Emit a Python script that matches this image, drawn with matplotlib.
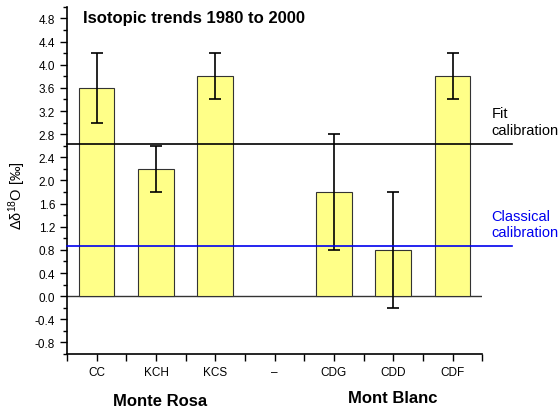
import matplotlib
matplotlib.use('Agg')
import matplotlib.pyplot as plt
import numpy as np
from matplotlib.ticker import MultipleLocator, FixedLocator, FormatStrFormatter

plt.rcParams['font.family'] = ['Liberation Sans', 'DejaVu Sans']
plt.rcParams['mathtext.default'] = 'regular'

# isotopic trends per core, 1980-2000
cores = ['CC', 'KCH', 'KCS', '\u2013', 'CDG', 'CDD', 'CDF']
trend = [3.6, 2.2, 3.8, np.nan, 1.8, 0.8, 3.8]
err = [0.6, 0.4, 0.4, np.nan, 1.0, 1.0, 0.4]
fit_cal = 2.63
classic_cal = 0.86

fig = plt.figure(figsize=(5.6, 4.14), dpi=100)
ax = fig.add_axes([0.1196, 0.1425, 0.7414, 0.8385])

x = np.arange(len(cores))
ax.bar(x, trend, 0.6, color='#ffff88', edgecolor='#333333', linewidth=0.8, zorder=2)
ax.errorbar(x, trend, yerr=err, fmt='none', ecolor='black', elinewidth=1.2,
            capsize=4, capthick=1.2, zorder=3)
ax.axhline(0, color='#333333', linewidth=1.0, zorder=1)

# calibration levels, drawn past the right edge of the frame
ax.plot([-0.5, 7.0], [fit_cal, fit_cal], color='black', linewidth=1.2, clip_on=False, zorder=4)
ax.plot([-0.5, 7.0], [classic_cal, classic_cal], color='#0000ee', linewidth=1.2, clip_on=False, zorder=4)
ax.text(6.66, fit_cal + 0.12, 'Fit\ncalibration', fontsize=10.5, color='black',
        ha='left', va='bottom', linespacing=1.25)
ax.text(6.66, classic_cal + 0.12, 'Classical\ncalibration', fontsize=10.5, color='#0000ee',
        ha='left', va='bottom', linespacing=1.25)

ax.set_xlim(-0.5, 6.5)
ax.set_ylim(-1.0, 5.0)
ax.set_xticks(x)
ax.set_xticklabels(cores)
ax.xaxis.set_minor_locator(FixedLocator(np.arange(-0.5, 7.0, 1.0)))
ax.yaxis.set_minor_locator(MultipleLocator(0.2))
ax.set_yticks(np.arange(-0.8, 4.81, 0.4))
ax.yaxis.set_major_formatter(FormatStrFormatter('%.1f'))

for s in ['top', 'right']:
    ax.spines[s].set_visible(False)
for s in ['left', 'bottom']:
    ax.spines[s].set_linewidth(1.2)

ax.tick_params(axis='both', which='major', direction='out', length=5, width=1.0, labelsize=8.5)
ax.tick_params(axis='both', which='minor', direction='out', length=3, width=1.0)
ax.tick_params(axis='x', which='minor', length=5)

ax.set_ylabel('\u0394\u03b4$^{18}$O [\u2030]', fontsize=10.5)
ax.yaxis.set_label_coords(-0.095, 0.458)
ax.text(0.0386, 0.99, 'Isotopic trends 1980 to 2000', transform=ax.transAxes,
        fontsize=12, fontweight='bold', ha='left', va='top')

fig.text(160 / 560, 1 - 402 / 414, 'Monte Rosa', fontsize=12, fontweight='bold',
         ha='center', va='center')
fig.text(393 / 560, 1 - 399 / 414, 'Mont Blanc', fontsize=12, fontweight='bold',
         ha='center', va='center')

fig.savefig('out.png', dpi=100)
